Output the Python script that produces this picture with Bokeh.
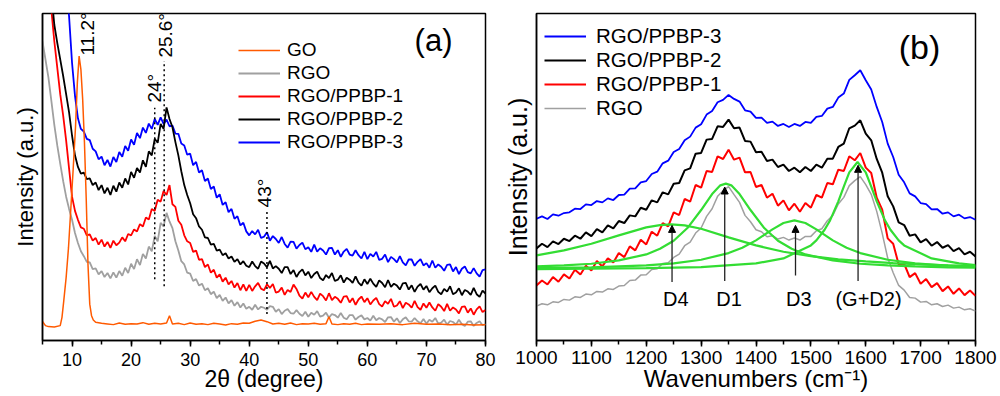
import math
from bokeh.plotting import figure
from bokeh.models import (Range1d, SingleIntervalTicker, FixedTicker, Legend, LegendItem,
                          Arrow, NormalHead, ColumnDataSource)
from bokeh.layouts import row
from bokeh.core.properties import value
from bokeh.embed import file_html
from bokeh.resources import INLINE

FONT = "Liberation Sans"

# ---------------- Panel (a): XRD ----------------
two_theta = [h / 2 for h in range(10, 161)]  # 5.0 ... 80.0 degrees, 0.5 step

xrd_rgo = [905, 850, 796, 725, 652, 590, 535, 482, 435, 398,
           365, 325, 295, 270, 255, 238, 236, 216, 218, 200,
           210, 192, 204, 188, 206, 190, 210, 196, 220, 204,
           232, 216, 246, 228, 262, 248, 284, 270, 316, 300,
           356, 345, 386, 360, 340, 300, 272, 240, 230, 205,
           202, 180, 186, 166, 172, 152, 158, 140, 148, 128,
           138, 120, 130, 112, 122, 105, 116, 100, 112, 96,
           102, 93, 108, 94, 102, 99, 93, 104, 102, 87,
           95, 80, 90, 95, 83, 81, 92, 81, 74, 87,
           72, 84, 78, 89, 72, 75, 84, 69, 80, 77,
           69, 83, 69, 64, 77, 77, 63, 71, 76, 64,
           68, 60, 75, 61, 68, 64, 56, 70, 71, 57,
           67, 53, 64, 70, 58, 57, 68, 58, 52, 65,
           51, 63, 57, 68, 51, 54, 63, 48, 59, 56,
           48, 63, 49, 44, 57, 58, 44, 53, 58, 46,
           50]
xrd_p1 = [1250, 1170, 1090, 1000, 905, 825, 745, 680, 605, 520,
          435, 392, 365, 342, 338, 318, 321, 302, 310, 290,
          305, 284, 298, 280, 302, 288, 296, 312, 300, 322,
          318, 336, 330, 352, 345, 372, 366, 398, 392, 426,
          420, 452, 440, 470, 412, 404, 362, 350, 318, 300,
          295, 268, 272, 244, 246, 222, 230, 205, 214, 190,
          200, 178, 190, 170, 180, 160, 174, 152, 170, 150,
          168, 150, 164, 174, 157, 152, 170, 159, 171, 145,
          148, 160, 138, 153, 147, 169, 156, 136, 127, 145,
          131, 147, 132, 122, 142, 134, 121, 143, 122, 132,
          126, 114, 133, 134, 115, 128, 108, 124, 133, 116,
          128, 109, 121, 129, 110, 103, 119, 111, 126, 102,
          106, 119, 98, 114, 109, 99, 120, 101, 93, 112,
          99, 115, 100, 90, 110, 102, 89, 111, 90, 100,
          94, 82, 102, 103, 84, 97, 78, 94, 103, 86,
          92]
xrd_p2 = [1350, 1250, 1150, 1050, 955, 900, 850, 800, 745, 690,
          620, 560, 525, 505, 508, 488, 490, 470, 478, 455,
          470, 445, 462, 440, 468, 450, 478, 462, 490, 472,
          510, 492, 522, 508, 545, 525, 572, 560, 610, 598,
          655, 640, 705, 670, 645, 600, 560, 512, 470, 440,
          415, 382, 370, 345, 335, 312, 310, 290, 292, 272,
          275, 258, 264, 248, 254, 238, 246, 230, 240, 226,
          222, 239, 225, 217, 239, 233, 222, 241, 218, 225,
          217, 204, 222, 222, 201, 213, 192, 207, 215, 197,
          208, 189, 201, 208, 189, 182, 198, 189, 204, 180,
          184, 197, 175, 190, 184, 174, 194, 175, 166, 185,
          171, 187, 172, 162, 182, 174, 161, 183, 162, 172,
          166, 154, 173, 174, 154, 167, 147, 163, 171, 154,
          165, 146, 158, 166, 147, 140, 156, 148, 164, 140,
          145, 158, 137, 153, 148, 138, 159, 140, 132, 151,
          142]
xrd_p3 = [1850, 1750, 1650, 1550, 1450, 1350, 1250, 1150, 1080, 980,
          840, 740, 672, 640, 632, 610, 606, 580, 572, 548,
          556, 530, 546, 526, 555, 540, 570, 556, 588, 574,
          608, 592, 628, 612, 644, 628, 656, 640, 670, 652,
          675, 655, 668, 648, 650, 626, 625, 596, 590, 562,
          565, 530, 540, 508, 515, 482, 490, 458, 466, 432,
          442, 410, 418, 388, 398, 368, 376, 348, 356, 330,
          318, 331, 321, 335, 310, 314, 327, 302, 316, 307,
          295, 313, 292, 281, 299, 298, 278, 289, 296, 276,
          282, 268, 290, 269, 279, 272, 260, 279, 280, 260,
          273, 253, 269, 277, 260, 257, 273, 258, 248, 268,
          246, 262, 254, 268, 244, 247, 260, 237, 253, 246,
          236, 255, 236, 227, 245, 245, 226, 238, 246, 227,
          234, 220, 242, 220, 230, 223, 211, 229, 230, 209,
          222, 201, 217, 224, 207, 203, 219, 203, 193, 213,
          215]

go_theta = [5, 5.5, 6, 7, 8, 8.3, 8.6, 9, 9.4, 9.8,
            10.2, 10.6, 10.9, 11.2, 11.5, 11.8, 12.1, 12.4, 12.7, 13,
            13.3, 13.6, 14, 15, 16, 17, 18, 19, 20, 21,
            22, 23, 24, 25, 26, 26.5, 27, 28, 29, 30,
            31, 32, 33, 34, 35, 36, 37, 38, 39, 40,
            41, 42, 43, 44, 45, 46, 47, 48, 49, 50,
            51, 52, 53, 53.5, 54, 55, 56, 57, 58, 59,
            60, 62, 64, 66, 68, 70, 72, 74, 76, 78,
            80]
xrd_go = [58, 45, 42, 41, 45, 70, 120, 190, 280, 400,
          520, 650, 780, 860, 820, 730, 600, 430, 230, 110,
          75, 62, 55, 52, 50, 48, 53, 49, 51, 50,
          54, 49, 52, 50, 53, 75, 50, 52, 48, 53,
          49, 51, 48, 52, 50, 47, 51, 49, 53, 52,
          58, 62, 57, 50, 52, 49, 53, 48, 51, 50,
          52, 49, 51, 72, 50, 48, 51, 49, 52, 48,
          50, 49, 51, 48, 52, 49, 50, 48, 49, 47,
          48]

peak_labels = ["11.2°", "24°", "25.6°", "43°"]
peak_label_x = [12.6, 23.9, 25.8, 42.6]
peak_label_y = [927, 763, 923, 446]
peak_line_x = [24, 25.6, 43]
peak_line_lo = [185, 164, 80]
peak_line_hi = [704, 845, 395]

# ---------------- Panel (b): Raman ----------------
wavenumber = list(range(1000, 1801, 10))

ram_p3 = [365, 372, 364, 378, 374, 382, 384, 395, 394, 408,
          406, 418, 414, 426, 421, 436, 437, 455, 456, 474,
          478, 499, 506, 531, 539, 565, 574, 600, 611, 638,
          648, 677, 688, 714, 721, 736, 724, 716, 690, 686,
          667, 668, 652, 656, 643, 649, 640, 649, 643, 655,
          652, 670, 673, 695, 700, 728, 740, 781, 795, 810,
          780, 752, 700, 655, 590, 550, 497, 474, 441, 432,
          412, 409, 393, 394, 380, 384, 372, 377, 366, 370,
          362]
ram_p2 = [276, 290, 280, 297, 289, 305, 298, 314, 305, 324,
          313, 334, 324, 345, 336, 358, 352, 375, 372, 398,
          392, 420, 414, 444, 438, 470, 472, 510, 516, 560,
          562, 602, 604, 642, 640, 662, 636, 638, 598, 596,
          564, 566, 538, 542, 520, 527, 508, 518, 504, 520,
          508, 527, 518, 545, 545, 580, 590, 636, 644, 660,
          620, 600, 544, 503, 432, 402, 354, 346, 314, 318,
          294, 304, 284, 295, 278, 286, 268, 277, 258, 266,
          252]
ram_p1 = [165, 180, 168, 190, 176, 198, 186, 212, 198, 224,
          210, 238, 222, 246, 234, 262, 250, 282, 270, 302,
          288, 326, 314, 352, 342, 384, 376, 424, 416, 466,
          458, 508, 505, 552, 544, 572, 542, 548, 504, 505,
          460, 466, 428, 440, 404, 420, 390, 410, 386, 412,
          398, 436, 428, 472, 468, 512, 508, 552, 540, 562,
          518, 502, 428, 392, 306, 290, 228, 230, 190, 202,
          170, 184, 160, 172, 148, 162, 140, 156, 136, 150,
          134]
ram_rgo = [103, 110, 107, 116, 114, 123, 121, 131, 129, 139,
           137, 147, 145, 155, 153, 163, 165, 180, 181, 196,
           197, 213, 215, 231, 233, 249, 259, 284, 295, 322,
           337, 372, 395, 432, 449, 461, 437, 414, 375, 356,
           332, 326, 311, 314, 304, 309, 301, 307, 301, 312,
           312, 329, 335, 359, 375, 409, 429, 464, 479, 491,
           467, 438, 387, 321, 247, 203, 165, 151, 129, 127,
           115, 117, 107, 110, 102, 106, 97, 100, 92, 95,
           88]

fit_d4_x = [1000, 1050, 1100, 1150, 1200, 1225, 1245, 1270, 1300, 1350, 1400, 1450,
            1500, 1550, 1600, 1650, 1700, 1750, 1800]
fit_d4_y = [255, 270, 290, 315, 339, 346, 348, 345, 335, 309, 285, 266,
            253, 243, 237, 232, 228, 225, 223]
fit_d1_x = [1000, 1050, 1100, 1150, 1200, 1225, 1250, 1275, 1300, 1320, 1335, 1345,
            1355, 1370, 1390, 1415, 1440, 1465, 1490, 1540, 1590, 1640, 1690, 1750, 1800]
fit_d1_y = [222, 225, 230, 240, 258, 275, 299, 337, 391, 439, 465, 470,
            465, 439, 391, 337, 299, 275, 258, 240, 230, 225, 222, 219, 218]
fit_d3_x = [1000, 1100, 1200, 1250, 1300, 1350, 1375, 1400, 1430, 1450, 1470,
            1490, 1510, 1540, 1565, 1590, 1640, 1690, 1740, 1800]
fit_d3_y = [217, 219, 225, 231, 242, 262, 278, 300, 333, 352, 360,
            352, 333, 300, 278, 262, 242, 231, 225, 221]
fit_g_x = [1000, 1200, 1300, 1400, 1450, 1500, 1510, 1525, 1535, 1550, 1560, 1570,
           1585, 1600, 1610, 1620, 1635, 1645, 1660, 1670, 1720, 1770, 1800]
fit_g_y = [214, 217, 220, 231, 246, 285, 300, 332, 360, 417, 461, 504,
           535, 504, 461, 417, 360, 332, 300, 285, 246, 231, 226]

band_names = ["D4", "D1", "D3", "(G+D2)"]
band_pos = [1247, 1343, 1472, 1586]
band_arrow_lo = [175, 178, 195, 178]
band_arrow_hi = [345, 460, 345, 525]
band_label_x = [1254, 1351, 1478, 1605]
band_label_y = [125, 125, 125, 125]

C_GO = "#FF5A00"
C_RGO = "#A0A0A0"
C_P1 = "#FF0000"
C_P2 = "#000000"
C_P3 = "#0000FF"
C_FIT = "#33DD33"


def style_axes(p, xlabel, tick_size, xlabel_size, ylabel_size, interval, tick_standoff, label_standoff):
    p.grid.visible = False
    p.background_fill_color = "white"
    p.border_fill_color = "white"
    p.outline_line_color = "black"
    p.outline_line_width = 1.5
    p.outline_line_alpha = 1.0
    xa = p.xaxis[0]
    xa.ticker = SingleIntervalTicker(interval=interval, num_minor_ticks=2)
    xa.axis_line_width = 1.5
    xa.major_tick_in = 0
    xa.major_tick_out = 6
    xa.minor_tick_in = 0
    xa.minor_tick_out = 4
    xa.major_tick_line_width = 1.5
    xa.minor_tick_line_width = 1.5
    xa.major_label_text_font = FONT
    xa.major_label_text_font_size = tick_size
    xa.major_label_text_color = "black"
    xa.major_label_standoff = tick_standoff
    xa.axis_label = xlabel
    xa.axis_label_text_font = FONT
    xa.axis_label_text_font_size = xlabel_size
    xa.axis_label_text_font_style = "normal"
    xa.axis_label_text_color = "black"
    xa.axis_label_standoff = label_standoff
    ya = p.yaxis[0]
    ya.ticker = FixedTicker(ticks=[])
    ya.axis_line_width = 1.5
    ya.major_tick_line_color = None
    ya.minor_tick_line_color = None
    ya.axis_label = "Intensity (a.u.)"
    ya.axis_label_text_font = FONT
    ya.axis_label_text_font_size = ylabel_size
    ya.axis_label_text_font_style = "normal"
    ya.axis_label_text_color = "black"
    ya.axis_label_standoff = 5


# ---- figure (a)
pa = figure(width=500, height=396, x_range=Range1d(5, 80), y_range=Range1d(0, 989),
            output_backend="svg", toolbar_location=None,
            min_border_left=42, min_border_right=15, min_border_top=12, min_border_bottom=55)
style_axes(pa, "2θ (degree)", "18px", "23px", "22px", 10, 6, -3)

r_rgo = pa.line(two_theta, xrd_rgo, line_color=C_RGO, line_width=1.8)
r_p1 = pa.line(two_theta, xrd_p1, line_color=C_P1, line_width=1.8)
r_p3 = pa.line(two_theta, xrd_p3, line_color=C_P3, line_width=1.8)
r_p2 = pa.line(two_theta, xrd_p2, line_color=C_P2, line_width=1.8)
r_go = pa.line(go_theta, xrd_go, line_color=C_GO, line_width=1.5)

pa.segment(x0=peak_line_x, y0=peak_line_lo, x1=peak_line_x, y1=peak_line_hi,
           line_color="black", line_width=1.5, line_dash="2 3")
pa.text(x=peak_label_x, y=peak_label_y, text=peak_labels, angle=math.pi / 2,
        text_align="center", text_baseline="middle", text_color="black",
        text_font=value(FONT), text_font_size=value("19px"))
pa.text(x=[71.2], y=[908], text=["(a)"], text_align="center", text_baseline="middle",
        text_color="black", text_font=value(FONT), text_font_size=value("31px"))

leg_a = Legend(items=[LegendItem(label="GO", renderers=[r_go]),
                      LegendItem(label="RGO", renderers=[r_rgo]),
                      LegendItem(label="RGO/PPBP-1", renderers=[r_p1]),
                      LegendItem(label="RGO/PPBP-2", renderers=[r_p2]),
                      LegendItem(label="RGO/PPBP-3", renderers=[r_p3])],
               location=(196, 187), glyph_width=42, glyph_height=20, label_height=20,
               label_standoff=7, spacing=1, padding=0, margin=0,
               border_line_color=None, background_fill_alpha=0,
               label_text_font=FONT, label_text_font_size="19px", label_text_color="black")
pa.add_layout(leg_a)

# ---- figure (b)
pb = figure(width=500, height=396, x_range=Range1d(1000, 1800), y_range=Range1d(0, 980),
            output_backend="svg", toolbar_location=None,
            min_border_left=32, min_border_right=25, min_border_top=13, min_border_bottom=56)
style_axes(pb, "Wavenumbers (cm⁻¹)", "19px", "24px", "25px", 100, 4, -2)

s_rgo = pb.line(wavenumber, ram_rgo, line_color=C_RGO, line_width=1.5)
s_p1 = pb.line(wavenumber, ram_p1, line_color=C_P1, line_width=2.0)
s_p2 = pb.line(wavenumber, ram_p2, line_color=C_P2, line_width=2.0)
s_p3 = pb.line(wavenumber, ram_p3, line_color=C_P3, line_width=1.8)

for fx, fy in [(fit_d4_x, fit_d4_y), (fit_d1_x, fit_d1_y), (fit_d3_x, fit_d3_y), (fit_g_x, fit_g_y)]:
    pb.line(fx, fy, line_color=C_FIT, line_width=2.2)

arr_src = ColumnDataSource(dict(x=band_pos, y0=band_arrow_lo, y1=band_arrow_hi))
pb.add_layout(Arrow(end=NormalHead(size=7, fill_color="black", line_color="black", line_width=1),
                    x_start="x", y_start="y0", x_end="x", y_end="y1", source=arr_src,
                    line_color="#222222", line_width=1.3))
pb.text(x=band_label_x, y=band_label_y, text=band_names, text_align="center",
        text_baseline="middle", text_color="black", text_font=value(FONT),
        text_font_size=value("20px"))
pb.text(x=[1698], y=[879], text=["(b)"], text_align="center", text_baseline="middle",
        text_color="black", text_font=value(FONT), text_font_size=value("34px"))

leg_b = Legend(items=[LegendItem(label="RGO/PPBP-3", renderers=[s_p3]),
                      LegendItem(label="RGO/PPBP-2", renderers=[s_p2]),
                      LegendItem(label="RGO/PPBP-1", renderers=[s_p1]),
                      LegendItem(label="RGO", renderers=[s_rgo])],
               location=(8, 220), glyph_width=42, glyph_height=20, label_height=20,
               label_standoff=10, spacing=0, padding=0, margin=0,
               border_line_color=None, background_fill_alpha=0,
               label_text_font=FONT, label_text_font_size="20.5px", label_text_color="black")
pb.add_layout(leg_b)

layout = row(pa, pb)
open("out.html", "w").write(file_html(layout, INLINE))
